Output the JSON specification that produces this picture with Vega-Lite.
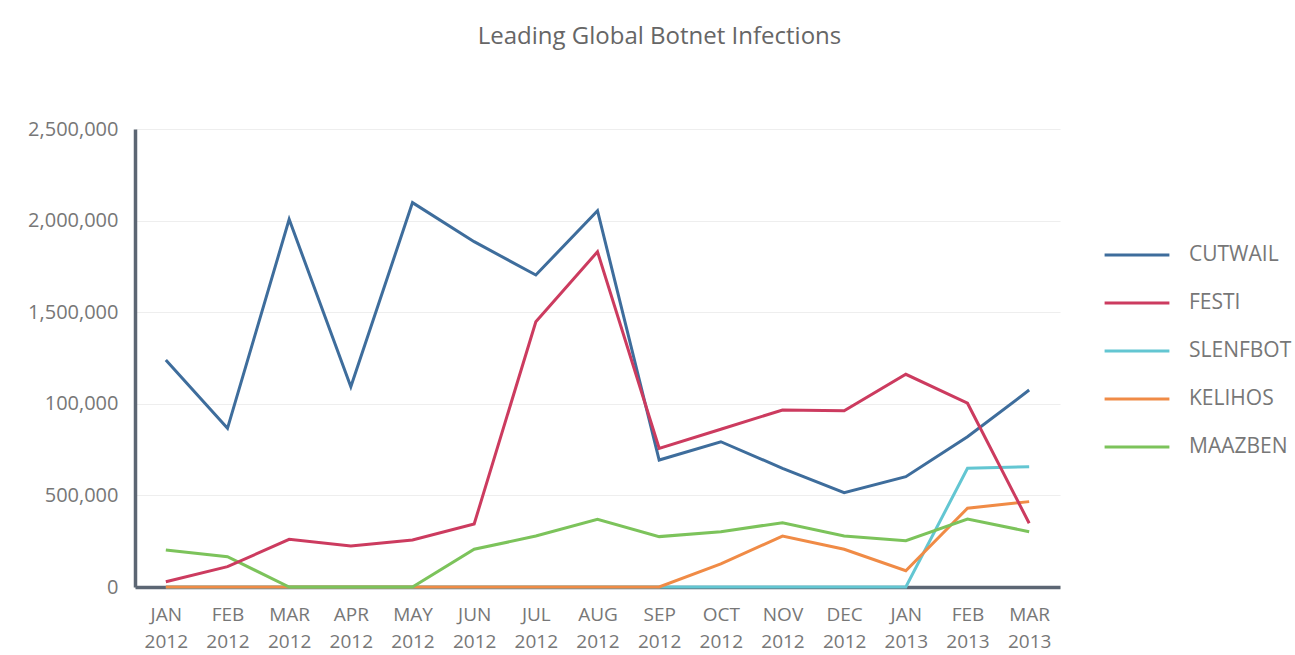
{
  "$schema": "https://vega.github.io/schema/vega-lite/v6.json",
  "width": 925,
  "height": 458,
  "autosize": {"type": "none"},
  "padding": {"left": 135, "top": 129, "right": 235, "bottom": 68},
  "background": "white",
  "title": {
    "text": "Leading Global Botnet Infections",
    "fontSize": 24,
    "fontWeight": "normal",
    "font": "Open Sans",
    "color": "#666666",
    "anchor": "middle",
    "frame": "group",
    "dx": 62,
    "offset": 70
  },
  "config": {
    "view": {"stroke": null},
    "font": "Open Sans"
  },
  "data": {
    "values": [
      {"month": "JAN 2012", "botnet": "SLENFBOT", "value": 0},
      {"month": "FEB 2012", "botnet": "SLENFBOT", "value": 0},
      {"month": "MAR 2012", "botnet": "SLENFBOT", "value": 0},
      {"month": "APR 2012", "botnet": "SLENFBOT", "value": 0},
      {"month": "MAY 2012", "botnet": "SLENFBOT", "value": 0},
      {"month": "JUN 2012", "botnet": "SLENFBOT", "value": 0},
      {"month": "JUL 2012", "botnet": "SLENFBOT", "value": 0},
      {"month": "AUG 2012", "botnet": "SLENFBOT", "value": 0},
      {"month": "SEP 2012", "botnet": "SLENFBOT", "value": 0},
      {"month": "OCT 2012", "botnet": "SLENFBOT", "value": 0},
      {"month": "NOV 2012", "botnet": "SLENFBOT", "value": 0},
      {"month": "DEC 2012", "botnet": "SLENFBOT", "value": 0},
      {"month": "JAN 2013", "botnet": "SLENFBOT", "value": 0},
      {"month": "FEB 2013", "botnet": "SLENFBOT", "value": 648000},
      {"month": "MAR 2013", "botnet": "SLENFBOT", "value": 657000},

      {"month": "JAN 2012", "botnet": "KELIHOS", "value": 0},
      {"month": "FEB 2012", "botnet": "KELIHOS", "value": 0},
      {"month": "MAR 2012", "botnet": "KELIHOS", "value": 0},
      {"month": "APR 2012", "botnet": "KELIHOS", "value": 0},
      {"month": "MAY 2012", "botnet": "KELIHOS", "value": 0},
      {"month": "JUN 2012", "botnet": "KELIHOS", "value": 0},
      {"month": "JUL 2012", "botnet": "KELIHOS", "value": 0},
      {"month": "AUG 2012", "botnet": "KELIHOS", "value": 0},
      {"month": "SEP 2012", "botnet": "KELIHOS", "value": 0},
      {"month": "OCT 2012", "botnet": "KELIHOS", "value": 126000},
      {"month": "NOV 2012", "botnet": "KELIHOS", "value": 278000},
      {"month": "DEC 2012", "botnet": "KELIHOS", "value": 206000},
      {"month": "JAN 2013", "botnet": "KELIHOS", "value": 89000},
      {"month": "FEB 2013", "botnet": "KELIHOS", "value": 430000},
      {"month": "MAR 2013", "botnet": "KELIHOS", "value": 466000},

      {"month": "JAN 2012", "botnet": "MAAZBEN", "value": 202000},
      {"month": "FEB 2012", "botnet": "MAAZBEN", "value": 165000},
      {"month": "MAR 2012", "botnet": "MAAZBEN", "value": 0},
      {"month": "APR 2012", "botnet": "MAAZBEN", "value": 0},
      {"month": "MAY 2012", "botnet": "MAAZBEN", "value": 0},
      {"month": "JUN 2012", "botnet": "MAAZBEN", "value": 206000},
      {"month": "JUL 2012", "botnet": "MAAZBEN", "value": 278000},
      {"month": "AUG 2012", "botnet": "MAAZBEN", "value": 370000},
      {"month": "SEP 2012", "botnet": "MAAZBEN", "value": 275000},
      {"month": "OCT 2012", "botnet": "MAAZBEN", "value": 302000},
      {"month": "NOV 2012", "botnet": "MAAZBEN", "value": 351000},
      {"month": "DEC 2012", "botnet": "MAAZBEN", "value": 278000},
      {"month": "JAN 2013", "botnet": "MAAZBEN", "value": 253000},
      {"month": "FEB 2013", "botnet": "MAAZBEN", "value": 371000},
      {"month": "MAR 2013", "botnet": "MAAZBEN", "value": 302000},

      {"month": "JAN 2012", "botnet": "CUTWAIL", "value": 1239000},
      {"month": "FEB 2012", "botnet": "CUTWAIL", "value": 866000},
      {"month": "MAR 2012", "botnet": "CUTWAIL", "value": 2007000},
      {"month": "APR 2012", "botnet": "CUTWAIL", "value": 1093000},
      {"month": "MAY 2012", "botnet": "CUTWAIL", "value": 2098000},
      {"month": "JUN 2012", "botnet": "CUTWAIL", "value": 1885000},
      {"month": "JUL 2012", "botnet": "CUTWAIL", "value": 1703000},
      {"month": "AUG 2012", "botnet": "CUTWAIL", "value": 2054000},
      {"month": "SEP 2012", "botnet": "CUTWAIL", "value": 693000},
      {"month": "OCT 2012", "botnet": "CUTWAIL", "value": 793000},
      {"month": "NOV 2012", "botnet": "CUTWAIL", "value": 648000},
      {"month": "DEC 2012", "botnet": "CUTWAIL", "value": 515000},
      {"month": "JAN 2013", "botnet": "CUTWAIL", "value": 602000},
      {"month": "FEB 2013", "botnet": "CUTWAIL", "value": 820000},
      {"month": "MAR 2013", "botnet": "CUTWAIL", "value": 1075000},

      {"month": "JAN 2012", "botnet": "FESTI", "value": 29000},
      {"month": "FEB 2012", "botnet": "FESTI", "value": 111000},
      {"month": "MAR 2012", "botnet": "FESTI", "value": 260000},
      {"month": "APR 2012", "botnet": "FESTI", "value": 224000},
      {"month": "MAY 2012", "botnet": "FESTI", "value": 257000},
      {"month": "JUN 2012", "botnet": "FESTI", "value": 344000},
      {"month": "JUL 2012", "botnet": "FESTI", "value": 1448000},
      {"month": "AUG 2012", "botnet": "FESTI", "value": 1830000},
      {"month": "SEP 2012", "botnet": "FESTI", "value": 757000},
      {"month": "OCT 2012", "botnet": "FESTI", "value": 861000},
      {"month": "NOV 2012", "botnet": "FESTI", "value": 966000},
      {"month": "DEC 2012", "botnet": "FESTI", "value": 962000},
      {"month": "JAN 2013", "botnet": "FESTI", "value": 1161000},
      {"month": "FEB 2013", "botnet": "FESTI", "value": 1003000},
      {"month": "MAR 2013", "botnet": "FESTI", "value": 348000}
    ]
  },
  "mark": {"type": "line", "strokeWidth": 3, "strokeJoin": "miter"},
  "encoding": {
    "x": {
      "field": "month",
      "type": "nominal",
      "sort": null,
      "scale": {"type": "point", "padding": 0.5},
      "axis": {
        "title": null,
        "labelAngle": 0,
        "labelExpr": "split(datum.label, ' ')",
        "labelFontSize": 19,
        "labelColor": "#777777",
        "labelLineHeight": 27,
        "labelPadding": 18,
        "labelFont": "Open Sans",
        "ticks": false,
        "grid": false,
        "domainColor": "#5c6673",
        "domainWidth": 3.5
      }
    },
    "y": {
      "field": "value",
      "type": "quantitative",
      "scale": {"domain": [0, 2500000], "nice": false},
      "axis": {
        "title": null,
        "values": [0, 500000, 1000000, 1500000, 2000000, 2500000],
        "labelExpr": "datum.value == 1000000 ? '100,000' : format(datum.value, ',')",
        "labelFontSize": 20,
        "labelColor": "#777777",
        "labelFont": "Open Sans",
        "labelPadding": 17,
        "ticks": false,
        "grid": true,
        "gridColor": "#eeeeee",
        "gridWidth": 1.2,
        "domainColor": "#5c6673",
        "domainWidth": 3.5
      }
    },
    "color": {
      "field": "botnet",
      "type": "nominal",
      "scale": {
        "domain": ["CUTWAIL", "FESTI", "SLENFBOT", "KELIHOS", "MAAZBEN"],
        "range": ["#3e6d9c", "#cc3b5f", "#63c6d2", "#f08b46", "#7cc35b"]
      },
      "legend": {
        "title": null,
        "orient": "none",
        "legendX": 968,
        "legendY": 111,
        "symbolType": "stroke",
        "symbolSize": 4200,
        "symbolStrokeWidth": 3,
        "clipHeight": 30,
        "rowPadding": 18,
        "labelOffset": 18,
        "labelFontSize": 21,
        "labelColor": "#777777",
        "labelFont": "Open Sans"
      }
    }
  }
}
